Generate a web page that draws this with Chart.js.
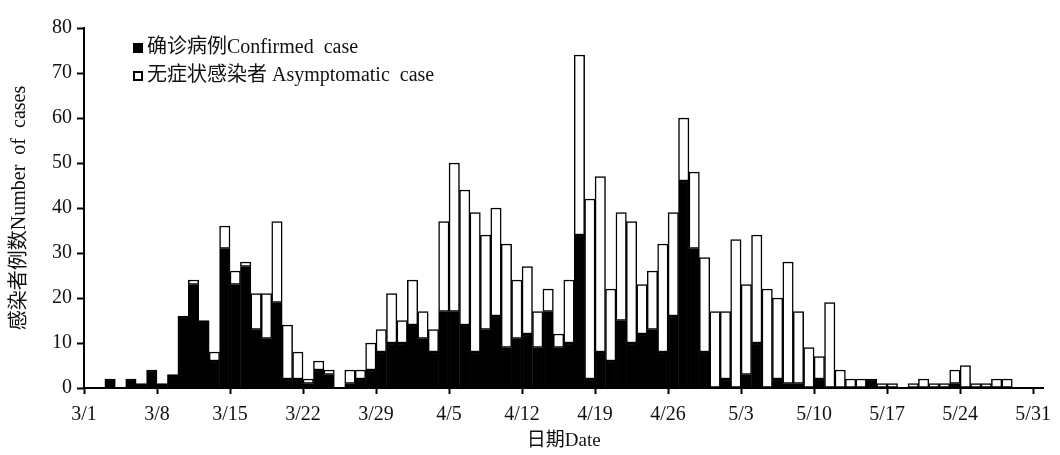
<!DOCTYPE html>
<html>
<head>
<meta charset="utf-8">
<title>感染者例数</title>
<script src="https://cdn.jsdelivr.net/npm/chart.js@4.4.1/dist/chart.umd.min.js"></script>
<style>
  body { margin: 0; background: #fff; }
  #wrap { width: 1060px; height: 455px; }
</style>
</head>
<body>
<div id="wrap"><canvas id="caseChart" width="1060" height="455"></canvas></div>
<script>
// daily cases, one value per day starting 3/1
const confirmed = [
  0, 0, 2, 0, 2, 1, 4, 1, 3, 16,
  23, 15, 6, 31, 23, 27, 13, 11, 19, 2,
  2, 1, 4, 3, 0, 1, 2, 4, 8, 10,
  10, 14, 11, 8, 17, 17, 14, 8, 13, 16,
  9, 11, 12, 9, 17, 9, 10, 34, 2, 8,
  6, 15, 10, 12, 13, 8, 16, 46, 31, 8,
  0, 2, 0, 3, 10, 0, 2, 1, 1, 0,
  2, 0, 0, 0, 0, 2, 0, 0, 0, 0,
  0, 0, 0, 1, 0, 0, 0, 0, 0, 0,
  0
];
const asymptomatic = [
  0, 0, 0, 0, 0, 0, 0, 0, 0, 0,
  1, 0, 2, 5, 3, 1, 8, 10, 18, 12,
  6, 1, 2, 1, 0, 3, 2, 6, 5, 11,
  5, 10, 6, 5, 20, 33, 30, 31, 21, 24,
  23, 13, 15, 8, 5, 3, 14, 40, 40, 39,
  16, 24, 27, 11, 13, 24, 23, 14, 17, 21,
  17, 15, 33, 20, 24, 22, 18, 27, 16, 9,
  5, 19, 4, 2, 2, 0, 1, 1, 0, 1,
  2, 1, 1, 3, 5, 1, 1, 2, 2, 0,
  0
];
const tickLabels = ["3/1", "3/8", "3/15", "3/22", "3/29", "4/5", "4/12",
  "4/19", "4/26", "5/3", "5/10", "5/17", "5/24", "5/31"];
const seriesNames = ["确诊病例Confirmed  case", "无症状感染者 Asymptomatic  case"];

const FONT = '"Liberation Serif", "Noto Sans CJK SC", serif';

// bar i sits between day i and day i+1 on the date axis
function toPoints(arr) {
  return arr.map((v, i) => ({ x: i + 0.5, y: v }));
}

// legend drawn inside the plot, stacked as two lines
const boxLegend = {
  id: "boxLegend",
  afterDraw(chart) {
    const ctx = chart.ctx;
    const area = chart.chartArea;
    chart.data.datasets.forEach((ds, i) => {
      const x = area.left + 49;
      const y = area.top + 20 + i * 28;
      ctx.save();
      ctx.fillStyle = "#000";
      ctx.fillRect(x, y - 5, 10, 10);
      if (ds.backgroundColor !== "#000") {
        ctx.fillStyle = "#fff";
        ctx.fillRect(x + 2, y - 3, 6, 6);
      }
      ctx.fillStyle = "#111";
      ctx.font = "20px " + FONT;
      ctx.textBaseline = "middle";
      ctx.fillText(ds.label, x + 14, y);
      ctx.restore();
    });
  }
};

new Chart(document.getElementById("caseChart"), {
  type: "bar",
  data: {
    datasets: [
      {
        label: seriesNames[0],
        data: toPoints(confirmed),
        backgroundColor: "#000",
        borderColor: "#000",
        borderWidth: 1.5,
        borderSkipped: false
      },
      {
        label: seriesNames[1],
        data: toPoints(asymptomatic),
        backgroundColor: "#fff",
        borderColor: "#000",
        borderWidth: 1.5,
        borderSkipped: false
      }
    ]
  },
  options: {
    responsive: false,
    animation: false,
    barPercentage: 1,
    categoryPercentage: 1,
    layout: { padding: { top: 28, right: 8, left: 0, bottom: 0 } },
    plugins: {
      legend: { display: false },
      tooltip: { enabled: false }
    },
    scales: {
      x: {
        type: "linear",
        stacked: true,
        min: 0,
        max: 92,
        offset: false,
        afterFit: s => { s.height = 67; },
        afterBuildTicks: s => {
          s.ticks = tickLabels.map((t, i) => ({ value: i * 7 }));
        },
        grid: {
          offset: false,
          drawOnChartArea: false,
          drawTicks: true,
          tickLength: 6,
          tickWidth: 2,
          tickColor: "#000"
        },
        border: { display: true, color: "#000", width: 2 },
        ticks: {
          autoSkip: false,
          maxRotation: 0,
          padding: 9,
          color: "#111",
          font: { family: FONT, size: 20 },
          callback: (v, i) => tickLabels[i]
        },
        title: {
          display: true,
          text: "日期Date",
          color: "#111",
          font: { family: FONT, size: 19 },
          padding: { top: 0, bottom: 3 }
        }
      },
      y: {
        stacked: true,
        min: 0,
        max: 80,
        afterFit: s => { s.width = 84; },
        grid: {
          drawOnChartArea: false,
          drawTicks: true,
          tickLength: 7,
          tickWidth: 2,
          tickColor: "#000"
        },
        border: { display: true, color: "#000", width: 2 },
        ticks: {
          stepSize: 10,
          padding: 5,
          color: "#111",
          font: { family: FONT, size: 20 }
        },
        title: {
          display: true,
          text: "感染者例数Number  of  cases",
          color: "#111",
          font: { family: FONT, size: 20 },
          padding: { top: 8, bottom: 0 }
        }
      }
    }
  },
  plugins: [boxLegend]
});
</script>
</body>
</html>
